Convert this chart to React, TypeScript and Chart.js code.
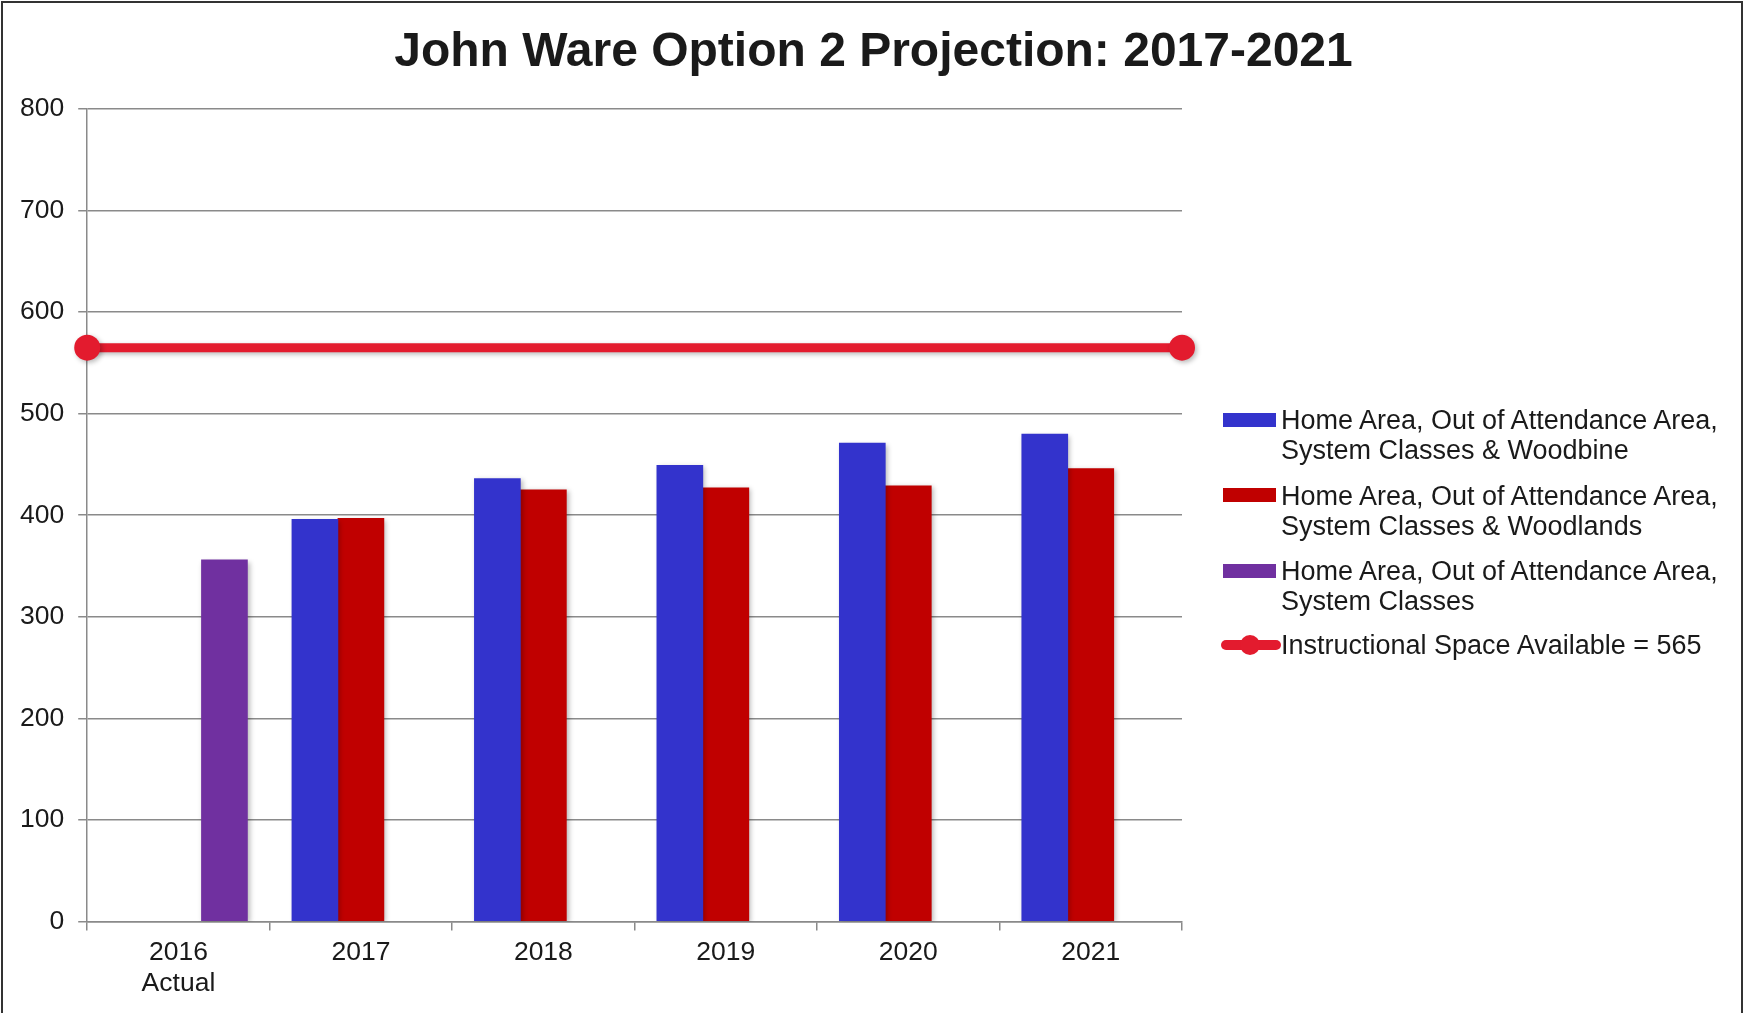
import React, { useEffect, useRef } from "react";
import { Chart, registerables } from "chart.js";

Chart.register(...registerables);

const TITLE = "John Ware Option 2 Projection: 2017-2021";
const CATEGORIES: (string | string[])[] = [["2016", "Actual"], "2017", "2018", "2019", "2020", "2021"];
const WOODBINE = [null, 396, 436, 449, 471, 480];
const WOODLANDS = [null, 397, 425, 427, 429, 446];
const SYSTEM_CLASSES = [356, null, null, null, null, null];
const CAPACITY = 565;
const Y_TICKS = [0, 100, 200, 300, 400, 500, 600, 700, 800];

const LABEL_WOODBINE = ["Home Area, Out of Attendance Area,", "System Classes & Woodbine"];
const LABEL_WOODLANDS = ["Home Area, Out of Attendance Area,", "System Classes & Woodlands"];
const LABEL_SYSTEM = ["Home Area, Out of Attendance Area,", "System Classes"];
const LABEL_CAPACITY = "Instructional Space Available = 565";

const BLUE = "#3333cc";
const RED = "#c00000";
const PURPLE = "#7030a0";
const LINE_RED = "#e31b2e";
const GRID = "#8a8a8a";
const TEXT = "#1a1a1a";
const FONT = "'Liberation Sans', Arial, Helvetica, sans-serif";

// the x axis runs from the left edge of the first category to the right edge of the last
const X_MIN = -0.5;
const X_MAX = CATEGORIES.length - 0.5;

const shadowPlugin = {
  id: "shadowPlugin",
  beforeDatasetDraw(chart: any) {
    const ctx = chart.ctx;
    ctx.save();
    ctx.shadowColor = "rgba(0,0,0,0.28)";
    ctx.shadowBlur = 5;
    ctx.shadowOffsetX = 2;
    ctx.shadowOffsetY = 2;
  },
  afterDatasetDraw(chart: any) {
    chart.ctx.restore();
  },
};

const toPoints = (values: (number | null)[]) => values.map((y, i) => ({ x: i, y }));

export default function App() {
  const canvasRef = useRef<HTMLCanvasElement | null>(null);

  useEffect(() => {
    if (!canvasRef.current) return;
    const chart = new Chart(canvasRef.current, {
      type: "bar",
      data: {
        datasets: [
          {
            type: "bar",
            label: LABEL_WOODBINE.join(" "),
            data: toPoints(WOODBINE) as any,
            backgroundColor: BLUE,
          },
          {
            type: "bar",
            label: LABEL_WOODLANDS.join(" "),
            data: toPoints(WOODLANDS) as any,
            backgroundColor: RED,
          },
          {
            type: "bar",
            label: LABEL_SYSTEM.join(" "),
            data: toPoints(SYSTEM_CLASSES) as any,
            backgroundColor: PURPLE,
          },
          {
            type: "line",
            label: LABEL_CAPACITY,
            data: [
              { x: X_MIN, y: CAPACITY },
              { x: X_MAX, y: CAPACITY },
            ] as any,
            borderColor: LINE_RED,
            backgroundColor: LINE_RED,
            borderWidth: 9,
            pointRadius: 13,
            pointHoverRadius: 13,
            pointBorderWidth: 0,
            pointBackgroundColor: LINE_RED,
            clip: false as any,
          } as any,
        ],
      },
      options: {
        responsive: false,
        animation: false,
        layout: { padding: { left: 6, right: 565, top: 109, bottom: 7 } },
        datasets: {
          bar: { barThickness: 46, grouped: true },
        } as any,
        plugins: {
          legend: { display: false },
          tooltip: { enabled: false },
          title: { display: false },
        },
        scales: {
          x: {
            type: "linear",
            min: X_MIN,
            max: X_MAX,
            offset: false,
            afterBuildTicks(scale: any) {
              const t: { value: number }[] = [];
              for (let i = 0; i < CATEGORIES.length; i++) {
                t.push({ value: i - 0.5 });
                t.push({ value: i });
              }
              t.push({ value: X_MAX });
              scale.ticks = t;
            },
            grid: {
              display: true,
              drawOnChartArea: false,
              drawTicks: true,
              tickLength: 9,
              offset: false,
              color: GRID,
              tickColor: (ctx: any) =>
                ctx.tick && Number.isInteger(ctx.tick.value) ? "rgba(0,0,0,0)" : GRID,
              lineWidth: 1.5,
            },
            border: { display: true, color: GRID, width: 1.5 },
            ticks: {
              color: TEXT,
              font: { family: FONT, size: 26.5 },
              padding: 6,
              maxRotation: 0,
              autoSkip: false,
              callback: (value: any) =>
                Number.isInteger(value) && CATEGORIES[value] !== undefined ? (CATEGORIES[value] as any) : "",
            },
          },
          y: {
            type: "linear",
            min: Y_TICKS[0],
            max: Y_TICKS[Y_TICKS.length - 1],
            afterBuildTicks(scale: any) {
              scale.ticks = Y_TICKS.map((v) => ({ value: v }));
            },
            grid: {
              color: GRID,
              lineWidth: 1.5,
              tickLength: 9,
              drawTicks: true,
            },
            border: { display: true, color: GRID, width: 1.5 },
            ticks: {
              color: TEXT,
              font: { family: FONT, size: 26.5 },
              padding: 14,
            },
          },
        },
      },
      plugins: [shadowPlugin],
    } as any);
    return () => chart.destroy();
  }, []);

  const textStyle: React.CSSProperties = {
    position: "absolute",
    left: 1281,
    fontFamily: FONT,
    fontSize: 27,
    lineHeight: "30px",
    color: TEXT,
    whiteSpace: "nowrap",
  };
  const swatch = (top: number, color: string): React.CSSProperties => ({
    position: "absolute",
    left: 1223,
    top,
    width: 53,
    height: 14,
    background: color,
  });

  return (
    <div
      style={{
        position: "fixed",
        left: 0,
        top: 0,
        width: 1747,
        height: 1013,
        background: "#ffffff",
        overflow: "hidden",
      }}
    >
      <canvas ref={canvasRef} width={1747} height={1013} style={{ display: "block", width: 1747, height: 1013 }} />
      <div
        style={{
          position: "absolute",
          left: 0,
          top: 21,
          width: 1747,
          textAlign: "center",
          fontFamily: FONT,
          fontWeight: "bold",
          fontSize: 48,
          lineHeight: "58px",
          color: TEXT,
          whiteSpace: "nowrap",
        }}
      >
        {TITLE}
      </div>
      <div
        style={{
          position: "absolute",
          left: 1,
          top: 1,
          width: 1742,
          height: 1030,
          border: "2px solid #333333",
          borderBottom: "none",
          boxSizing: "border-box",
          pointerEvents: "none",
        }}
      />
      <div style={swatch(413, BLUE)} />
      <div style={{ ...textStyle, top: 405 }}>
        {LABEL_WOODBINE[0]}
        <br />
        {LABEL_WOODBINE[1]}
      </div>
      <div style={swatch(488, RED)} />
      <div style={{ ...textStyle, top: 481 }}>
        {LABEL_WOODLANDS[0]}
        <br />
        {LABEL_WOODLANDS[1]}
      </div>
      <div style={swatch(564, PURPLE)} />
      <div style={{ ...textStyle, top: 556 }}>
        {LABEL_SYSTEM[0]}
        <br />
        {LABEL_SYSTEM[1]}
      </div>
      <div
        style={{
          position: "absolute",
          left: 1221,
          top: 640,
          width: 60,
          height: 10,
          borderRadius: 5,
          background: LINE_RED,
        }}
      />
      <div
        style={{
          position: "absolute",
          left: 1240,
          top: 635,
          width: 20,
          height: 20,
          borderRadius: 10,
          background: LINE_RED,
        }}
      />
      <div style={{ ...textStyle, top: 630 }}>{LABEL_CAPACITY}</div>
    </div>
  );
}
